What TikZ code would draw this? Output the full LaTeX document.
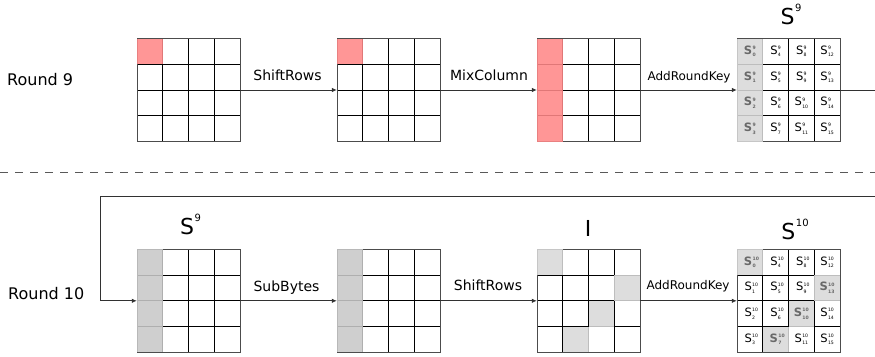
\documentclass[tikz,border=0pt]{standalone}
\usepackage{fontspec}
\setmainfont{DejaVu Sans}
\usetikzlibrary{arrows.meta}

\definecolor{keyred}{RGB}{255,136,136}
\definecolor{colgray}{RGB}{200,200,200}
\definecolor{cellgray}{RGB}{216,216,216}
\definecolor{wire}{RGB}{50,50,50}
\definecolor{boldgray}{RGB}{105,105,105}

% cell width of a 4x4 state
\def\cw{25.75}

% empty node that carries the name of a 4x4 state (left x, top y)
\newcommand\aesgrid[3]{\node[gridnode] (#1) at ({#2+51.5},{#3+51.5}) {};}
% inner lines and frame of a state
\newcommand\gridlines[2]{%
  \foreach \k in {1,2,3}{%
    \draw[gridline] ({#1+\k*\cw},#2) -- ++(0,103);
    \draw[gridline] (#1,{#2+\k*\cw}) -- ++(103,0);
  }
  \draw[gridframe] (#1,#2) rectangle ++(103,103);}
% shaded cell: left x, top y, column, row, colour
\newcommand\cellfill[5]{\fill[#5,opacity=0.88] ({#1+#3*\cw},{#2+#4*\cw}) rectangle ++(\cw,\cw);}
% state byte S with round superscript and index subscript
\newcommand\sreg[2]{S\kern0.3pt\makebox[0pt][l]{\raisebox{4.9pt}{\fontsize{4.6}{5}\selectfont #1}}\raisebox{-2.4pt}{\fontsize{4.6}{5}\selectfont #2}}
% large state name with superscript
\newcommand\bigstate[1]{S\kern0.6pt\raisebox{13pt}{\fontsize{10}{11}\selectfont #1}}

\begin{document}
\begin{tikzpicture}[x=1pt,y=-1pt,
  gridnode/.style={minimum width=103pt,minimum height=103pt,inner sep=0pt,draw=none},
  gridline/.style={line width=0.9pt,black},
  gridframe/.style={line width=1pt,black!70},
  conn/.style={line width=0.8pt,wire,-{Latex[length=5pt,width=4.5pt]}},
  wireline/.style={line width=0.8pt,wire},
  sepline/.style={line width=0.8pt,black!65,dash pattern=on 8pt off 7pt},
  oplabel/.style={anchor=base,inner sep=0pt,font=\fontsize{14}{16}\selectfont},
  keylabel/.style={anchor=base,inner sep=0pt,font=\fontsize{12}{14}\selectfont},
  roundlabel/.style={anchor=base west,inner sep=0pt,font=\fontsize{16}{19}\selectfont},
  statelabel/.style={anchor=base,inner sep=0pt,font=\fontsize{22}{26}\selectfont},
  celltext/.style={inner sep=0pt,font=\fontsize{11.5}{12}\selectfont},
  boldcell/.style={celltext,text=boldgray,font=\fontsize{11.5}{12}\selectfont\bfseries}]
\useasboundingbox (0,0) rectangle (875,356);

% ---------------- round 9 ----------------
\aesgrid{t1}{137}{38.5}
\aesgrid{t2}{337}{38.5}
\aesgrid{t3}{537}{38.5}
\aesgrid{t4}{737}{38.5}
\foreach \x in {137,337,537,737}{\gridlines{\x}{38.5}}
\cellfill{137}{38.5}{0}{0}{keyred}
\cellfill{337}{38.5}{0}{0}{keyred}
\foreach \r in {0,...,3}{\cellfill{537}{38.5}{0}{\r}{keyred}}
\foreach \r in {0,...,3}{\cellfill{737}{38.5}{0}{\r}{cellgray}}
\foreach \c in {0,...,3}{\foreach \r in {0,...,3}{%
  \pgfmathtruncatemacro\idx{\c*4+\r}
  \ifnum\c=0
    \node[boldcell] (s9-\idx) at ({737+(\c+0.5)*\cw},{38.5+(\r+0.5)*\cw}) {\sreg{9}{\idx}};
  \else
    \node[celltext] (s9-\idx) at ({737+(\c+0.5)*\cw},{38.5+(\r+0.5)*\cw}) {\sreg{9}{\idx}};
  \fi}}

\node[roundlabel] (round9) at (7,85) {Round 9};
\node[statelabel] (s9top) at (791,24) {\bigstate{9}};

\draw[conn] (t1.east) -- (t2.west);
\draw[conn] (t2.east) -- (t3.west);
\draw[conn] (t3.east) -- (t4.west);
\coordinate (out9) at (875,90);
\draw[wireline] (t4.east) -- (out9);
\node[oplabel] (op-sr9) at (287.5,80) {ShiftRows};
\node[oplabel] (op-mc9) at (489,80.5) {MixColumn};
\node[keylabel] (op-ark9) at (689,80.5) {AddRoundKey};

% separator between the rounds
\coordinate (sepL) at (0,172);
\coordinate (sepR) at (875,172);
\draw[sepline] (sepL) -- (sepR);

% ---------------- round 10 ----------------
\aesgrid{b1}{137}{249.3}
\aesgrid{b2}{337}{249.3}
\aesgrid{b3}{537}{249.3}
\aesgrid{b4}{737}{249.3}
\foreach \x in {137,337,537,737}{\gridlines{\x}{249.3}}
\foreach \r in {0,...,3}{\cellfill{137}{249.3}{0}{\r}{colgray}\cellfill{337}{249.3}{0}{\r}{colgray}}
\cellfill{537}{249.3}{0}{0}{cellgray}
\cellfill{537}{249.3}{3}{1}{cellgray}
\cellfill{537}{249.3}{2}{2}{cellgray}
\cellfill{537}{249.3}{1}{3}{cellgray}
\cellfill{737}{249.3}{0}{0}{cellgray}
\cellfill{737}{249.3}{3}{1}{cellgray}
\cellfill{737}{249.3}{2}{2}{cellgray}
\cellfill{737}{249.3}{1}{3}{cellgray}
\foreach \c in {0,...,3}{\foreach \r in {0,...,3}{%
  \pgfmathtruncatemacro\idx{\c*4+\r}
  \pgfmathtruncatemacro\hit{mod(4-\r,4)==\c}
  \ifnum\hit=1
    \node[boldcell] (s10-\idx) at ({737+(\c+0.5)*\cw},{249.3+(\r+0.5)*\cw}) {\sreg{10}{\idx}};
  \else
    \node[celltext] (s10-\idx) at ({737+(\c+0.5)*\cw},{249.3+(\r+0.5)*\cw}) {\sreg{10}{\idx}};
  \fi}}

\node[roundlabel] (round10) at (8,299) {Round 10};
\node[statelabel] (s9bot) at (190.5,234) {\bigstate{9}};
\node[statelabel] (ilabel) at (588,236) {I};
\node[statelabel] (s10bot) at (795,239) {\bigstate{10}};

% feedback from the end of round 9 into round 10
\coordinate (loopR) at (875,196);
\coordinate (loopL) at (100,196);
\draw[conn] (loopR) -- (loopL) |- (b1.west);
\draw[conn] (b1.east) -- (b2.west);
\draw[conn] (b2.east) -- (b3.west);
\draw[conn] (b3.east) -- (b4.west);
\node[oplabel] (op-sb10) at (286.5,291) {SubBytes};
\node[oplabel] (op-sr10) at (488,290) {ShiftRows};
\node[keylabel] (op-ark10) at (688,289) {AddRoundKey};
\end{tikzpicture}
\end{document}
